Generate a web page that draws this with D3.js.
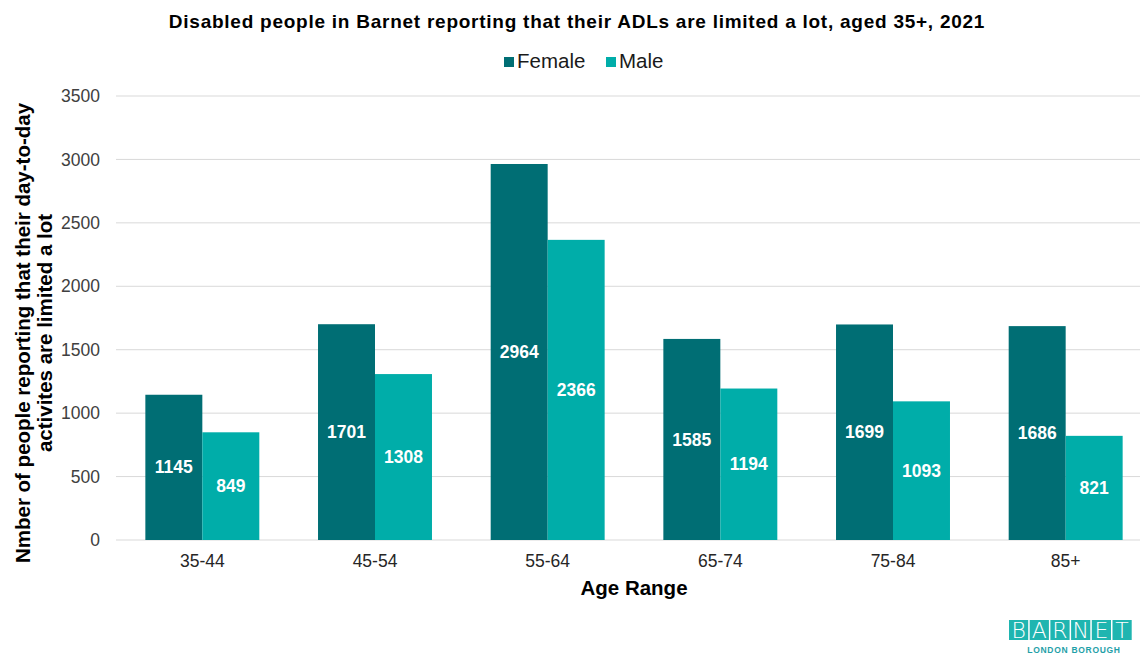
<!DOCTYPE html>
<html>
<head>
<meta charset="utf-8">
<script src="https://cdn.jsdelivr.net/npm/d3@7"></script>
<style>
  html, body { margin: 0; padding: 0; background: #fff; }
  svg { display: block; font-family: "Liberation Sans", Arial, sans-serif; }
</style>
</head>
<body>
<svg id="chart" width="1140" height="654"></svg>
<script>
// Age bands and counts by sex
const ageBands = ["35-44", "45-54", "55-64", "65-74", "75-84", "85+"];
const female = [1145, 1701, 2964, 1585, 1699, 1686];
const male = [849, 1308, 2366, 1194, 1093, 821];
const seriesNames = ["Female", "Male"];
const yTicks = [0, 500, 1000, 1500, 2000, 2500, 3000, 3500];

const colors = { Female: "#006E74", Male: "#00ADA9" };
const svg = d3.select("#chart");

const plot = { left: 116, right: 1152, top: 96, bottom: 540 };

const x = d3.scaleBand().domain(ageBands).range([plot.left, plot.right]);
const barW = x.bandwidth() * 0.33;
const y = d3.scaleLinear().domain([0, 3500]).range([plot.bottom, plot.top]);

// Gridlines
svg.append("g").selectAll("line").data(yTicks).join("line")
  .attr("x1", plot.left).attr("x2", 1140)
  .attr("y1", d => y(d)).attr("y2", d => y(d))
  .attr("stroke", "#d9d9d9").attr("stroke-width", 1);

// Y axis labels
const yAxis = d3.axisLeft(y).tickValues(yTicks).tickFormat(d3.format("d")).tickSize(0).tickPadding(0);
const gy = svg.append("g").attr("transform", `translate(${plot.left - 16},0)`).call(yAxis);
gy.select(".domain").remove();
gy.selectAll("text").attr("font-size", 17.5).attr("fill", "#404040")
  .attr("font-family", "'Liberation Sans', Arial, sans-serif");

// X axis labels
const xAxis = d3.axisBottom(x).tickSize(0).tickPadding(0);
const gx = svg.append("g").attr("transform", `translate(0,${plot.bottom + 15})`).call(xAxis);
gx.select(".domain").remove();
gx.selectAll("text").attr("font-size", 17.5).attr("fill", "#262626")
  .attr("font-family", "'Liberation Sans', Arial, sans-serif");

// Bars with centred value labels
const rows = ageBands.map((a, i) => ({ age: a, Female: female[i], Male: male[i] }));
const groups = svg.append("g").selectAll("g").data(rows).join("g");
seriesNames.forEach((s, k) => {
  const bx = d => x(d.age) + x.bandwidth() / 2 + (k === 0 ? -barW : 0);
  groups.append("rect")
    .attr("x", bx)
    .attr("y", d => y(d[s]))
    .attr("width", barW)
    .attr("height", d => y(0) - y(d[s]))
    .attr("fill", colors[s]);
  groups.append("text")
    .attr("x", d => bx(d) + barW / 2)
    .attr("y", d => (y(d[s]) + y(0)) / 2)
    .attr("dy", "0.35em")
    .attr("text-anchor", "middle")
    .attr("font-size", 17.5).attr("font-weight", "bold").attr("fill", "#fff")
    .text(d => d[s]);
});

// Title
svg.append("text").attr("x", 577).attr("y", 28).attr("text-anchor", "middle")
  .attr("font-size", 19).attr("letter-spacing", 0.75).attr("font-weight", "bold").attr("fill", "#000")
  .text("Disabled people in Barnet reporting that their ADLs are limited a lot, aged 35+, 2021");

// Legend
const legendX = [504, 606];
seriesNames.forEach((s, i) => {
  svg.append("rect").attr("x", legendX[i]).attr("y", 57).attr("width", 10).attr("height", 10)
    .attr("fill", colors[s]);
  svg.append("text").attr("x", legendX[i] + 13).attr("y", 68)
    .attr("font-size", 20.5).attr("fill", "#1a1a1a").text(s);
});

// Axis titles
svg.append("text").attr("x", 634).attr("y", 595).attr("text-anchor", "middle")
  .attr("font-size", 20.5).attr("font-weight", "bold").attr("fill", "#000").text("Age Range");

const yt = svg.append("text").attr("transform", "translate(0,333) rotate(-90)")
  .attr("text-anchor", "middle").attr("font-size", 20.5).attr("font-weight", "bold").attr("fill", "#000");
yt.append("tspan").attr("x", 0).attr("y", 30).text("Nmber of people reporting that their day-to-day");
yt.append("tspan").attr("x", 0).attr("y", 52).text("activites are limited a lot");

// Borough logo
const logoLetters = ["B", "A", "R", "N", "E", "T"];
const logo = svg.append("g").attr("transform", "translate(1009,620)");
const lw = 20.7;
logo.selectAll("rect").data(logoLetters).join("rect")
  .attr("x", (d, i) => i * lw).attr("y", 0).attr("width", lw - 1.5).attr("height", 20)
  .attr("fill", "#1FB5B0");
logo.selectAll("text.l").data(logoLetters).join("text").attr("class", "l")
  .attr("x", (d, i) => i * lw + (lw - 1.5) / 2).attr("y", 18)
  .attr("text-anchor", "middle").attr("font-size", 22).attr("font-weight", 300)
  .attr("font-family", "'DejaVu Sans', sans-serif").attr("fill", "#fff")
  .attr("transform-origin", "0 0").text(d => d);
logo.append("text").attr("x", 65).attr("y", 33).attr("text-anchor", "middle")
  .attr("font-size", 8.5).attr("font-weight", "bold").attr("fill", "#1FA0A8")
  .attr("letter-spacing", 0.7).text("LONDON BOROUGH");
</script>
</body>
</html>
